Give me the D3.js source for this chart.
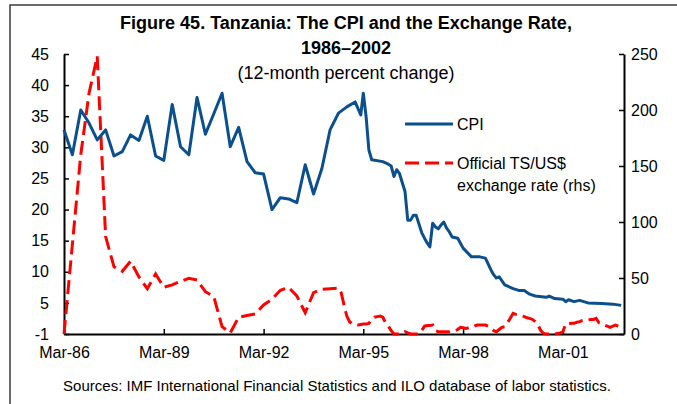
<!DOCTYPE html>
<html>
<head>
<meta charset="utf-8">
<script src="https://cdn.jsdelivr.net/npm/d3@7"></script>
<style>
  body { margin: 0; background: #fff; }
  svg { display: block; }
  text { font-family: "Liberation Sans", Arial, sans-serif; fill: #000; }
</style>
</head>
<body>
<svg id="chart" width="677" height="404"></svg>
<script>
// CPI, 12-month percent change: quarterly observations 1986-03 .. 1994-12
const cpiQuarterStart = "1986-03";
const cpiQuarterly = [
  32.8, 28.8, 36.0, 33.9, 31.2, 32.8, 28.6, 29.3, 32.0, 31.1, 35.0, 28.6,
  27.9, 36.9, 30.1, 28.8, 38.0, 32.1, 35.4, 38.7, 30.1, 33.2, 27.7, 25.9,
  25.7, 20.0, 21.9, 21.7, 21.1, 27.2, 22.5, 26.6, 32.8, 35.5, 36.5, 37.3
];
// CPI, monthly observations from 1995
const cpiMonthlyDates = [
  "1995-02", "1995-03", "1995-04", "1995-05", "1995-06", "1995-10", "1995-12",
  "1996-01", "1996-02", "1996-03", "1996-04", "1996-06", "1996-07", "1996-08",
  "1996-09", "1996-10", "1996-12", "1997-01", "1997-02", "1997-03", "1997-04",
  "1997-05", "1997-06", "1997-07", "1997-08", "1997-09", "1997-10", "1997-11",
  "1998-01", "1998-03", "1998-06", "1998-09", "1998-11", "1999-01", "1999-02",
  "1999-03", "1999-04", "1999-06", "1999-09", "1999-11", "2000-01", "2000-03",
  "2000-05", "2000-09", "2000-10", "2000-12", "2001-03", "2001-04", "2001-05",
  "2001-07", "2001-09", "2001-12", "2002-05", "2002-09", "2002-12"
];
const cpiMonthlyValues = [
  35.2, 38.7, 34.9, 29.6, 28.0, 27.7, 27.3,
  27.0, 25.3, 26.4, 25.8, 22.9, 18.3, 18.3,
  19.1, 19.1, 16.3, 15.4, 14.6, 14.0, 17.8,
  17.2, 16.9, 17.5, 18.0, 17.0, 16.4, 15.6,
  15.4, 13.8, 12.4, 12.4, 12.2, 10.3, 9.5,
  9.0, 9.2, 7.9, 7.3, 7.0, 7.0, 6.4,
  6.1, 5.9, 6.1, 5.7, 5.6, 5.2, 5.5,
  5.2, 5.4, 5.0, 4.9, 4.8, 4.6
];

// Official TS/US$ exchange rate, 12-month percent change (right axis)
const fxQuarterStart = "1986-03";
const fxQuarterly = [
  0, 80, 160, 215, 248, 87, 60, 56, 65, 51, 40.5, 53.6,
  41.7, 43.8, 47, 49.7, 48.2, 37.8, 33.3, 6.5, 1, 15, 16.5, 18,
  26, 31, 39, 41.7, 34, 19, 37, 40, 40.5, 41
];
const fxMonthlyStart = "1994-07";
const fxMonthly = [
  37, 26, 16, 11, 9, 8.5,                                   // 1994 Jul-Dec
  8, 8.5, 9, 9, 9.5, 13, 15, 15.5, 16, 15, 10, 7,          // 1995
  3, 0, 0, 0, 0.5, 2, 1, 0, 0, 0, 0, 3,                    // 1996
  7, 7.5, 7.5, 8, 3, 2, 2, 2, 2, 2, 2.5, 3,                // 1997
  4, 6, 5.5, 5, 5.5, 6.5, 7, 8, 8, 8, 8, 7,                // 1998
  5, 3, 2, 4, 6, 6.5, 10, 14, 18.5, 17.5, 17, 16.3,        // 1999
  15.5, 14.5, 14, 13, 11, 8, 3, 0.5, 0, 0, 0, 0,           // 2000
  0.5, 1, 2, 9, 9, 9.5, 9.5, 10.5, 11, 12, 12.5, 12.5,     // 2001
  13, 13, 14, 10, 9, 8, 7, 6, 7, 8, 7, 4                   // 2002
];

const leftTicks = [0, 5, 10, 15, 20, 25, 30, 35, 40, 45];
const leftTickLabels = ["-1", "5", "10", "15", "20", "25", "30", "35", "40", "45"];
const rightTicks = [0, 50, 100, 150, 200, 250];
const xTickDates = ["1986-03", "1989-03", "1992-03", "1995-03", "1998-03", "2001-03"];
const xTickLabels = ["Mar-86", "Mar-89", "Mar-92", "Mar-95", "Mar-98", "Mar-01"];

const parse = d3.timeParse("%Y-%m");

// assemble series
const quarterSeries = (start, vals) =>
  vals.map((v, i) => ({ date: d3.timeMonth.offset(parse(start), i * 3), v }));
const monthSeries = (start, vals) =>
  vals.map((v, i) => ({ date: d3.timeMonth.offset(parse(start), i), v }));

const cpi = quarterSeries(cpiQuarterStart, cpiQuarterly).concat(
  cpiMonthlyDates.map((d, i) => ({ date: parse(d), v: cpiMonthlyValues[i] })));
const fx = quarterSeries(fxQuarterStart, fxQuarterly).concat(
  monthSeries(fxMonthlyStart, fxMonthly));

const svg = d3.select("#chart");
const plot = { left: 64, right: 624, top: 54, bottom: 334 };

// frame around the figure
svg.append("rect")
  .attr("x", 10).attr("y", 5).attr("width", 700).attr("height", 420)
  .attr("fill", "none").attr("stroke", "#3a3a3a").attr("stroke-width", 1.5);

const x = d3.scaleTime()
  .domain([parse("1986-03"), parse("2003-01")])
  .range([plot.left, plot.right]);
const yL = d3.scaleLinear().domain([0, 45]).range([plot.bottom, plot.top]);
const yR = d3.scaleLinear().domain([0, 250]).range([plot.bottom, plot.top]);

// titles
svg.append("text").attr("x", 346).attr("y", 28.5)
  .attr("text-anchor", "middle").attr("font-size", 18).attr("font-weight", "bold")
  .text("Figure 45. Tanzania: The CPI and the Exchange Rate,");
svg.append("text").attr("x", 346).attr("y", 53.5)
  .attr("text-anchor", "middle").attr("font-size", 18).attr("font-weight", "bold")
  .text("1986–2002");
svg.append("text").attr("x", 346).attr("y", 78.5)
  .attr("text-anchor", "middle").attr("font-size", 18)
  .text("(12-month percent change)");

// axes
function styleAxis(g) {
  g.select(".domain").attr("stroke", "#000").attr("stroke-width", 2);
  g.selectAll(".tick line").attr("stroke", "#000").attr("stroke-width", 1.5);
  g.selectAll(".tick text").attr("font-size", 16).attr("font-family", null);
}

svg.append("g")
  .attr("transform", `translate(${plot.left},0)`)
  .call(d3.axisLeft(yL).tickValues(leftTicks)
    .tickFormat((d, i) => leftTickLabels[i])
    .tickSizeInner(-5).tickSizeOuter(0).tickPadding(15))
  .call(styleAxis);

svg.append("g")
  .attr("transform", `translate(${plot.right},0)`)
  .call(d3.axisRight(yR).tickValues(rightTicks)
    .tickSizeInner(-5).tickSizeOuter(0).tickPadding(7))
  .call(g => g.selectAll(".tick text").attr("text-anchor", "start"))
  .call(styleAxis);

svg.append("g")
  .attr("transform", `translate(0,${plot.bottom})`)
  .call(d3.axisBottom(x).tickValues(xTickDates.map(parse))
    .tickFormat((d, i) => xTickLabels[i])
    .tickSizeInner(-5).tickSizeOuter(0).tickPadding(13))
  .call(styleAxis);

// series
const lineL = d3.line().x(d => x(d.date)).y(d => yL(d.v));
const lineR = d3.line().x(d => x(d.date)).y(d => yR(d.v));

svg.append("path").datum(fx)
  .attr("d", lineR).attr("fill", "none")
  .attr("stroke", "#ff0000").attr("stroke-width", 3)
  .attr("stroke-dasharray", "14,6");

svg.append("path").datum(cpi)
  .attr("d", lineL).attr("fill", "none")
  .attr("stroke", "#0b4f8c").attr("stroke-width", 3)
  .attr("stroke-linejoin", "round");

// legend
const legend = svg.append("g");
legend.append("line").attr("x1", 405).attr("x2", 453).attr("y1", 124).attr("y2", 124)
  .attr("stroke", "#0b4f8c").attr("stroke-width", 3);
legend.append("text").attr("x", 457).attr("y", 130).attr("font-size", 16).text("CPI");
legend.append("line").attr("x1", 405).attr("x2", 453).attr("y1", 163).attr("y2", 163)
  .attr("stroke", "#ff0000").attr("stroke-width", 3).attr("stroke-dasharray", "14,6");
legend.append("text").attr("x", 457).attr("y", 169).attr("font-size", 16).text("Official TS/US$");
legend.append("text").attr("x", 457).attr("y", 191).attr("font-size", 16).text("exchange rate (rhs)");

// source note
svg.append("text").attr("x", 337).attr("y", 391)
  .attr("text-anchor", "middle").attr("font-size", 15)
  .text("Sources: IMF International Financial Statistics  and ILO database of labor statistics.");
</script>
</body>
</html>
